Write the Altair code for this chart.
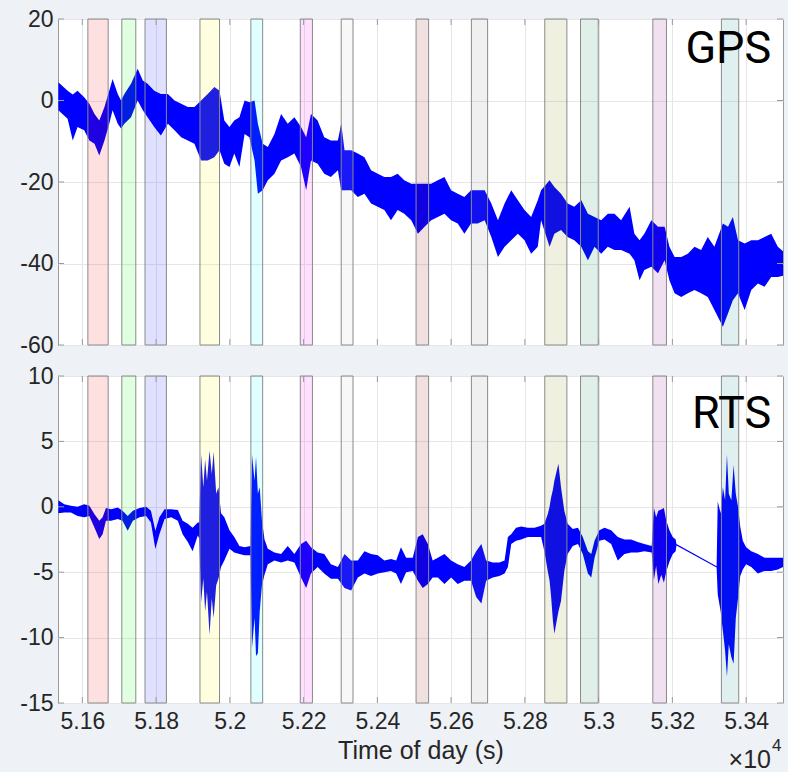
import altair as alt
import pandas as pd

# ---------------- data ----------------
x_ticks = [5.16, 5.18, 5.2, 5.22, 5.24, 5.26, 5.28, 5.3, 5.32, 5.34]
gps_y_ticks = [-60, -40, -20, 0, 20]
rts_y_ticks = [-15, -10, -5, 0, 5, 10]

band_start = [5.1615, 5.1707, 5.1770, 5.1919, 5.2057, 5.2191, 5.2302,
              5.2505, 5.2655, 5.2854, 5.2951, 5.3147, 5.3333]
band_end = [5.1670, 5.1745, 5.1828, 5.1972, 5.2089, 5.2224, 5.2334,
            5.2539, 5.2699, 5.2914, 5.2999, 5.3184, 5.3380]
band_color = ["#ff0000", "#00ff00", "#0000ff", "#ffff00", "#00ffff", "#ff00ff", "#c8c8c8",
              "#800000", "#808080", "#808000", "#008040", "#800080", "#008080"]

gps_t = [5.1535, 5.1560, 5.1574, 5.1587, 5.1605, 5.1619, 5.1633, 5.1646, 5.1660, 5.1673,
         5.1682, 5.1696, 5.1705, 5.1714, 5.1732, 5.1750, 5.1764, 5.1777, 5.1795, 5.1813,
         5.1832, 5.1850, 5.1868, 5.1886, 5.1904, 5.1922, 5.1940, 5.1958, 5.1972, 5.1985,
         5.1999, 5.2012, 5.2026, 5.2040, 5.2053, 5.2067, 5.2076, 5.2089, 5.2103, 5.2121,
         5.2139, 5.2157, 5.2175,
         5.2193, 5.2207, 5.2220, 5.2238, 5.2256, 5.2274, 5.2293, 5.2302, 5.2311, 5.2329,
         5.2347, 5.2365, 5.2383, 5.2401, 5.2419, 5.2437, 5.2455, 5.2473, 5.2492, 5.2510,
         5.2528, 5.2546, 5.2564, 5.2582, 5.2600, 5.2618, 5.2636, 5.2654, 5.2672, 5.2691,
         5.2709, 5.2727, 5.2745, 5.2763, 5.2781, 5.2799, 5.2817, 5.2835,
         5.2844, 5.2867, 5.2880, 5.2898, 5.2916, 5.2934, 5.2953, 5.2971, 5.2989, 5.3007,
         5.3025, 5.3043, 5.3061, 5.3084, 5.3097, 5.3111, 5.3124, 5.3143, 5.3161, 5.3179,
         5.3192, 5.3206, 5.3224, 5.3242, 5.3260, 5.3278, 5.3296, 5.3314, 5.3337, 5.3351,
         5.3364, 5.3378, 5.3396, 5.3414, 5.3432, 5.3450, 5.3468, 5.3486, 5.3500]
gps_hi = [4.5, 2.4, 1.5, 2.4, 0.8, -0.8, -3.3, -4.9, -1.6, 2.4,
          5.3, 1.6, 0.0, 1.6, 4.1, 7.8, 4.9, 4.1, 2.4, 1.6,
          1.6, 0.0, -0.8, -1.6, -1.6, 0.0, 1.6, 3.3, 2.4, -4.9,
          -6.5, -4.9, -4.1, 0.0, -0.4, 0.0, -5.7, -10.6, -11.4, -8.2,
          -3.3, -5.7, -4.1,
          -6.5, -9.0, -3.3, -4.9, -9.0, -9.8, -9.8, -5.7, -12.2, -12.2,
          -13.0, -13.9, -17.1, -18.0, -18.8, -18.8, -18.0, -19.6, -20.4, -20.4,
          -20.4, -20.4, -19.6, -18.8, -22.0, -22.9, -23.7, -22.0, -22.0, -22.0,
          -25.3, -29.4, -25.3, -22.0, -24.5, -26.9, -28.6, -24.5,
          -22.0, -19.6, -21.2, -22.9, -25.3, -26.1, -24.5, -27.8, -28.6, -29.4,
          -27.8, -27.8, -29.4, -26.1, -32.7, -34.3, -32.7, -29.4, -31.0, -31.0,
          -35.9, -38.4, -38.4, -37.6, -35.9, -36.7, -33.5, -35.9, -30.2, -31.0,
          -28.6, -34.3, -35.1, -34.3, -34.3, -33.5, -32.7, -35.9, -37.0]
gps_lo = [-2.4, -4.5, -9.8, -6.5, -7.3, -9.8, -10.6, -13.5, -9.8, -5.7,
          -2.4, -5.7, -6.9, -5.7, -4.1, 0.0, -2.4, -4.1, -6.5, -8.6,
          -5.7, -7.3, -9.0, -9.8, -10.6, -14.7, -14.7, -13.9, -12.2, -15.5,
          -16.3, -13.0, -16.3, -8.2, -9.0, -14.7, -22.9, -22.0, -19.6, -18.0,
          -14.7, -13.9, -13.0,
          -16.3, -22.0, -14.7, -15.5, -18.0, -18.8, -17.1, -22.0, -22.0, -22.0,
          -23.7, -22.9, -25.3, -26.1, -26.9, -29.4, -26.9, -27.8, -29.4, -32.7,
          -31.0, -29.4, -28.6, -27.8, -29.4, -30.2, -32.7, -30.2, -30.2, -29.4,
          -33.5, -38.4, -35.9, -34.3, -32.7, -34.3, -37.6, -35.9,
          -29.4, -35.9, -32.7, -31.8, -33.5, -34.3, -35.9, -39.2, -35.9, -37.6,
          -35.9, -36.7, -36.7, -37.6, -39.2, -44.1, -41.6, -40.8, -42.4, -39.2,
          -44.1, -47.3, -48.2, -47.3, -46.5, -47.3, -48.2, -51.4, -55.5, -52.2,
          -49.0, -47.3, -51.4, -46.5, -44.9, -45.7, -43.3, -43.3, -43.0]

rts_t = [5.1535, 5.1551, 5.1569, 5.1587, 5.1605, 5.1619, 5.1633, 5.1646, 5.1655, 5.1664,
         5.1678, 5.1696, 5.1709, 5.1723, 5.1737, 5.1755, 5.1773, 5.1786, 5.1798, 5.1809,
         5.1823, 5.1841, 5.1859, 5.1872, 5.1886, 5.1899, 5.1913, 5.1917, 5.1922, 5.1928,
         5.1933, 5.1938, 5.1945, 5.1951, 5.1956, 5.1963, 5.1969, 5.1976, 5.1985, 5.1999,
         5.2012, 5.2026, 5.2040, 5.2056, 5.2060, 5.2067, 5.2071, 5.2076, 5.2081, 5.2087,
         5.2094, 5.2103, 5.2121, 5.2139, 5.2157, 5.2175,
         5.2193, 5.2207, 5.2220, 5.2238, 5.2256, 5.2274, 5.2293, 5.2311, 5.2329, 5.2347,
         5.2365, 5.2383, 5.2401, 5.2419, 5.2437, 5.2451, 5.2464, 5.2478, 5.2496, 5.2510,
         5.2523, 5.2537, 5.2550, 5.2564, 5.2582, 5.2600, 5.2618, 5.2636, 5.2654, 5.2668,
         5.2682, 5.2695, 5.2713, 5.2731, 5.2745, 5.2754, 5.2763, 5.2776, 5.2790, 5.2808,
         5.2826,
         5.2844, 5.2853, 5.2862, 5.2867, 5.2871, 5.2876, 5.2880, 5.2891, 5.2898, 5.2907,
         5.2916, 5.2930, 5.2944, 5.2957, 5.2971, 5.2980, 5.2989, 5.3002, 5.3016, 5.3034,
         5.3052, 5.3070, 5.3088, 5.3106, 5.3124, 5.3144, 5.3150, 5.3156, 5.3162, 5.3170,
         5.3177, 5.3183, 5.3192, 5.3201, 5.3209, 5.3211, 5.3320, 5.3323, 5.3331, 5.3337,
         5.3343, 5.3348, 5.3353, 5.3360, 5.3366, 5.3372, 5.3378, 5.3384, 5.3391, 5.3400,
         5.3414, 5.3432, 5.3450, 5.3468, 5.3486, 5.3500]
rts_hi = [0.5, 0.2, 0.08, 0.0, 0.2, 0.08, -0.56, -1.07, -0.8, -0.1,
          -0.18, -0.05, -0.3, -0.7, -0.3, -0.1, 0.0, -0.3, -1.83, -0.8,
          -0.18, -0.18, -0.25, -1.07, -1.3, -1.6, -1.2, -1.2, 4.0, 1.5,
          3.6, 2.0, 4.3, 2.5, 4.2, 1.0, 1.5, -0.5, -0.8, -1.8,
          -2.3, -3.0, -3.1, -3.0, 4.0, 2.0, 3.8, 1.0, 1.5, -1.0,
          -2.5, -3.2, -3.5, -3.6, -3.0, -3.6,
          -2.85, -2.6, -3.1, -3.5, -3.6, -4.4, -4.6, -3.6, -4.1, -4.1,
          -3.4, -3.6, -3.7, -4.1, -4.0, -4.1, -3.1, -3.9, -3.9, -2.3,
          -2.1, -2.85, -4.1, -3.9, -3.6, -4.1, -4.4, -4.6, -4.1, -3.4,
          -2.85, -4.1, -4.25, -4.25, -4.1, -2.3, -2.1, -1.6, -1.5, -1.6,
          -1.6,
          -1.45, -1.3, -0.56, 0.0, 0.7, 1.3, 2.0, 3.3, 1.5, -0.3,
          -1.3, -1.7, -1.6, -2.3, -3.4, -3.6, -2.6, -1.8, -1.6, -1.8,
          -2.3, -2.5, -2.5, -2.7, -2.85, -3.0, -0.1, -0.8, -0.3, -0.2,
          -0.1, -1.0, -1.8, -2.3, -2.5, -2.85, -4.55, 0.4, -0.5, 1.5,
          0.5, 4.0, 1.0, 0.5, 3.2, 1.0, 0.0, -1.5, -2.6, -3.1,
          -3.4, -3.6, -3.9, -3.9, -3.9, -3.9]
rts_lo = [-0.5, -0.43, -0.43, -0.7, -0.8, -0.7, -1.6, -2.47, -2.1, -1.07,
          -1.07, -0.94, -1.07, -1.83, -1.07, -0.8, -0.7, -1.2, -3.23, -2.1,
          -0.94, -0.8, -1.07, -2.1, -2.7, -3.4, -2.2, -2.4, -7.3, -5.5,
          -8.0, -6.5, -9.8, -7.0, -8.5, -6.0, -5.5, -4.6, -4.1, -3.2,
          -3.5, -3.6, -3.7, -3.7, -10.8, -8.5, -11.4, -11.2, -8.0, -6.0,
          -5.2, -4.4, -4.1, -4.25, -4.1, -4.25,
          -5.4, -6.2, -5.1, -4.6, -5.1, -5.5, -5.5, -6.2, -6.4, -5.4,
          -5.1, -5.3, -5.1, -5.0, -4.9, -5.1, -5.9, -5.0, -4.9, -5.65,
          -6.2, -5.9, -5.4, -5.4, -5.9, -5.4, -5.9, -5.65, -5.65, -6.9,
          -7.4, -5.65, -5.4, -5.3, -5.1, -4.6, -2.85, -2.6, -2.5, -2.3,
          -2.3,
          -2.3, -3.4, -4.9, -5.65, -6.8, -8.7, -9.7, -8.0, -7.2, -4.9,
          -3.6, -3.0, -2.85, -3.6, -5.1, -5.4, -3.9, -2.6, -2.5, -2.85,
          -4.1, -3.6, -3.5, -3.5, -3.4, -3.5, -5.6, -4.5, -5.9, -5.2,
          -5.8, -5.0, -4.2, -3.6, -3.4, -2.95, -4.65, -6.7, -8.0, -9.5,
          -11.0, -13.0, -10.5, -11.5, -12.0, -8.5, -7.0, -5.3, -4.8, -4.4,
          -4.6, -5.1, -4.9, -4.9, -4.8, -4.6]

# ---------------- styling ----------------
X_DOMAIN = [5.1534, 5.35]
W = 725
FONT = "Liberation Sans"
BIG_FONT = "Roboto"
TXT = "#262626"
GRID = "#e6e6e6"
EDGE = "#8a8a8a"
BOX = "#9a9a9a"
TICK_LEN = 6
VIEW = alt.ViewBackground(fill="white", stroke=BOX, strokeWidth=1)


def panel(t, hi, lo, ydom, yticks, height, label, label_y, bottom):
    df = pd.DataFrame({"t": t, "hi": hi, "lo": lo})
    xscale = alt.Scale(domain=X_DOMAIN, nice=False, zero=False)
    yscale = alt.Scale(domain=ydom, nice=False, zero=False)
    xaxis_kw = dict(values=x_ticks, grid=True, gridColor=GRID, ticks=False, domain=False,
                    labels=bottom, labelExpr="'' + datum.value", labelFontSize=23,
                    labelColor=TXT, labelPadding=7, labelFont=FONT)
    if bottom:
        xaxis_kw.update(title="Time of day (s)", titleFontSize=25, titleFontWeight="normal",
                        titleColor=TXT, titlePadding=5, titleFont=FONT)
        xenc = alt.X("t:Q", scale=xscale, axis=alt.Axis(**xaxis_kw))
    else:
        xenc = alt.X("t:Q", scale=xscale, axis=alt.Axis(**xaxis_kw), title="")
    yaxis = alt.Axis(values=yticks, grid=True, gridColor=GRID, ticks=False, domain=False,
                     labelExpr="'' + datum.value", labelFontSize=23, labelColor=TXT,
                     labelPadding=5, labelFont=FONT, minExtent=45, maxExtent=45)

    area = alt.Chart(df).mark_area(color="#0000ff", clip=True, interpolate="linear").encode(
        x=xenc,
        y=alt.Y("lo:Q", scale=yscale, axis=yaxis, title=""),
        y2="hi:Q",
    )

    bdf = pd.DataFrame({"s": band_start, "e": band_end, "c": band_color})
    bands = alt.Chart(bdf).mark_rect(fillOpacity=0.12, stroke=EDGE, strokeWidth=1,
                                     strokeOpacity=1).encode(
        x=alt.X("s:Q", scale=xscale),
        x2="e:Q",
        y=alt.value(0),
        y2=alt.value(height),
        fill=alt.Fill("c:N", scale=None),
    )

    xt = pd.DataFrame({"v": x_ticks})
    yt = pd.DataFrame({"v": yticks})
    tick_style = dict(color=BOX, strokeWidth=1)
    xt_b = alt.Chart(xt).mark_rule(**tick_style).encode(
        x=alt.X("v:Q", scale=xscale), y=alt.value(height), y2=alt.value(height - TICK_LEN))
    xt_t = alt.Chart(xt).mark_rule(**tick_style).encode(
        x=alt.X("v:Q", scale=xscale), y=alt.value(0), y2=alt.value(TICK_LEN))
    yt_l = alt.Chart(yt).mark_rule(**tick_style).encode(
        y=alt.Y("v:Q", scale=yscale), x=alt.value(0), x2=alt.value(TICK_LEN))
    yt_r = alt.Chart(yt).mark_rule(**tick_style).encode(
        y=alt.Y("v:Q", scale=yscale), x=alt.value(W), x2=alt.value(W - TICK_LEN))

    ldf = pd.DataFrame({"t": [5.3468], "y": [label_y], "s": [label]})
    lab = alt.Chart(ldf).mark_text(align="right", baseline="alphabetic", fontSize=45,
                                   font=BIG_FONT, color="black").encode(
        x=alt.X("t:Q", scale=xscale), y=alt.Y("y:Q", scale=yscale), text="s:N")

    layers = [area, bands, xt_b, xt_t, yt_l, yt_r, lab]
    if bottom:
        m1 = alt.Chart(pd.DataFrame({"s": ["×10"]})).mark_text(
            align="right", baseline="alphabetic", fontSize=25, font=FONT, color=TXT).encode(
            text="s:N", x=alt.value(713), y=alt.value(392))
        m2 = alt.Chart(pd.DataFrame({"s": ["4"]})).mark_text(
            align="left", baseline="alphabetic", fontSize=17, font=FONT, color=TXT).encode(
            text="s:N", x=alt.value(714), y=alt.value(375))
        layers += [m1, m2]
    return alt.layer(*layers).properties(width=W, height=height, view=VIEW)


top = panel(gps_t, gps_hi, gps_lo, [-60, 20], gps_y_ticks, 326, "GPS", 9.1, False)
bot = panel(rts_t, rts_hi, rts_lo, [-15, 10], rts_y_ticks, 327, "RTS", 6.0, True)

chart = alt.vconcat(top, bot, spacing=31, bounds="flush").properties(
    padding={"left": 12, "top": 7, "right": 4, "bottom": 0},
    background="#eef1f5",
).configure_view(fill="white", stroke=BOX, strokeWidth=1).configure(font=FONT)

chart.save("out.html", embed_options={"renderer": "svg", "actions": False})
